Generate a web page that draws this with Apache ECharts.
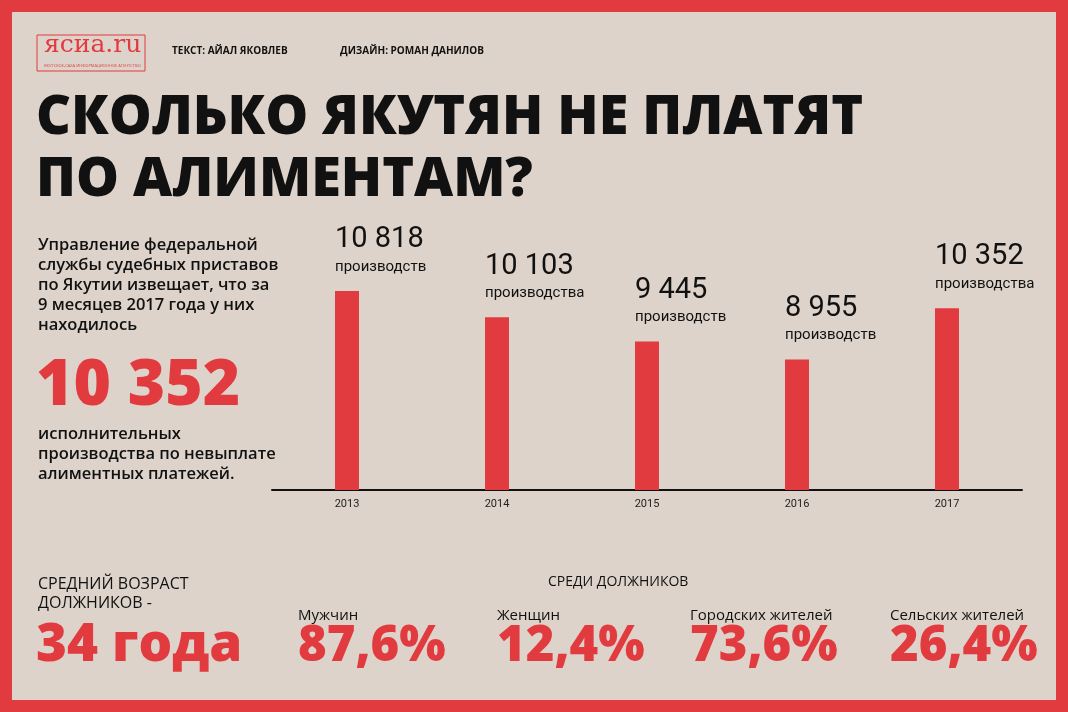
<!DOCTYPE html>
<html>
<head>
<meta charset="utf-8">
<script src="https://cdn.jsdelivr.net/npm/echarts@6/dist/echarts.min.js"></script>
<style>
  html, body { margin: 0; padding: 0; background: #e23b3f; }
  #chart { width: 1068px; height: 712px; }
</style>
</head>
<body>
<div id="chart"></div>
<script>
const years = ['2013', '2014', '2015', '2016', '2017'];
const cases = [10818, 10103, 9445, 8955, 10352];
const caseLabels = ['10 818', '10 103', '9 445', '8 955', '10 352'];
const caseWords = ['производств', 'производства', 'производств', 'производств', 'производства'];
const shareNames = ['Мужчин', 'Женщин', 'Городских жителей', 'Сельских жителей'];
const shareValues = ['87,6%', '12,4%', '73,6%', '26,4%'];

const RED = '#e23b3f';
const BG = '#ddd3ca';
const chart = echarts.init(document.getElementById('chart'));

const txt = (x, y, text, size, weight, color, extra) => Object.assign({
  type: 'text', left: x, top: y,
  style: { text: text, fontSize: size, fontWeight: weight, fill: color || '#111',
    fontFamily: 'Open Sans', lineHeight: Math.round(size * 1.2) }
}, extra || {});

const graphics = [
  { type: 'rect', shape: { x: 12, y: 12, width: 1044, height: 688 }, style: { fill: BG }, z: -10 },
  // logo
  { type: 'rect', shape: { x: 37, y: 35, width: 108, height: 36 }, style: { fill: 'none', stroke: RED, lineWidth: 1 } },
  txt(44, 33, 'ясиа.ru', 25, 'normal', RED, { style: { text: 'ясиа.ru', fontSize: 25, fill: RED, fontFamily: 'DejaVu Serif' } }),
  txt(44, 63, 'ЯКУТСКОЕ-САХА ИНФОРМАЦИОННОЕ АГЕНТСТВО', 4, 'normal', RED),
  txt(172, 45, 'ТЕКСТ: АЙАЛ ЯКОВЛЕВ', 10, 'bold'),
  txt(340, 45, 'ДИЗАЙН: РОМАН ДАНИЛОВ', 10, 'bold'),
  { type: 'text', left: 36, top: 88, style: { text: 'СКОЛЬКО ЯКУТЯН НЕ ПЛАТЯТ\nПО АЛИМЕНТАМ?', fontSize: 54, fontWeight: 800,
      fontFamily: 'Open Sans', lineHeight: 62, fill: '#111' } },
  txt(38, 235, 'Управление федеральной\nслужбы судебных приставов\nпо Якутии извещает, что за\n9 месяцев 2017 года у них\nнаходилось', 16.5, 600),
  txt(36, 348, '10 352', 64, 800, RED),
  txt(38, 424, 'исполнительных\nпроизводства по невыплате\nалиментных платежей.', 16.5, 600),
  txt(38, 575, 'СРЕДНИЙ ВОЗРАСТ\nДОЛЖНИКОВ -', 16, 'normal'),
  txt(36, 614, '34 года', 53, 800, RED),
  txt(548, 574, 'СРЕДИ ДОЛЖНИКОВ', 14, 'normal')
];
const shareX = [298, 497, 690, 890];
shareNames.forEach((n, i) => {
  graphics.push(txt(shareX[i], 607, n, 15, 'normal'));
  graphics.push(txt(shareX[i], 618, shareValues[i], 49, 800, RED));
});

chart.setOption({
  backgroundColor: RED,
  animation: false,
  graphic: graphics,
  grid: { left: 272, right: 46, top: 230, bottom: 222 },
  xAxis: {
    type: 'category', data: years,
    axisLine: { lineStyle: { color: '#111', width: 2 } },
    axisTick: { show: false },
    axisLabel: { color: '#222', fontSize: 11, fontFamily: 'Roboto', margin: 9 }
  },
  yAxis: { type: 'value', min: 5400, max: 12480, show: false, splitLine: { show: false } },
  series: [{
    type: 'bar', barWidth: 24, data: cases,
    itemStyle: { color: RED },
    label: {
      show: true, position: 'top', align: 'left', distance: 14, offset: [-12, 0],
      fontFamily: 'Roboto',
      formatter: p => '{n|' + caseLabels[p.dataIndex] + '}\n{w|' + caseWords[p.dataIndex] + '}',
      rich: {
        n: { fontSize: 29, color: '#111', lineHeight: 34 },
        w: { fontSize: 15, color: '#111', lineHeight: 20 }
      }
    }
  }]
});
</script>
</body>
</html>
